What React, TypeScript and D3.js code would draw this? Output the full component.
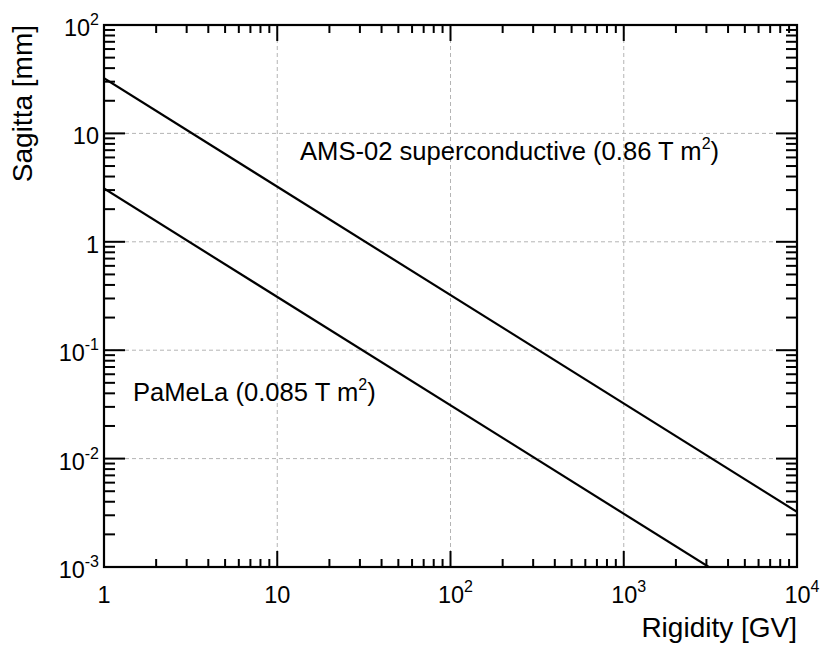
import React from "react";
import * as d3 from "d3";

const rigidity = [1, 10000];
const amsSagitta = [32.25, 0.003225];
const pamelaSagitta = [3.1, 0.00031];
const xDecades = [0, 1, 2, 3, 4];
const yDecades = [-3, -2, -1, 0, 1, 2];
const xTitle = "Rigidity [GV]";
const yTitle = "Sagitta [mm]";
const amsLabel = "AMS-02 superconductive (0.86 T m";
const pamelaLabel = "PaMeLa (0.085 T m";

const W = 830, H = 647;
const L = 104, R = 797, T = 25, B = 567;
const FONT = "'Liberation Sans', Arial, Helvetica, sans-serif";

function TickLabel({ e, x, y, anchor }: { e: number; x: number; y: number; anchor: string }) {
  if (e === 0) return <text x={x} y={y} textAnchor={anchor} fontSize={23.5}>1</text>;
  if (e === 1) return <text x={x} y={y} textAnchor={anchor} fontSize={23.5}>10</text>;
  return (
    <text x={x} y={y} textAnchor={anchor} fontSize={23.5}>
      10<tspan fontSize={16} dy={-11}>{String(e)}</tspan>
    </text>
  );
}

export default function App() {
  const x = d3.scaleLog().domain([1, 1e4]).range([L, R]);
  const y = d3.scaleLog().domain([1e-3, 1e2]).range([B, T]);
  const line = d3.line<number>().x((_, i) => x(rigidity[i])).y((d) => y(d));

  const xMinor: number[] = [];
  for (let e = 0; e < 4; e++) for (let m = 2; m <= 9; m++) xMinor.push(m * Math.pow(10, e));
  const yMinor: number[] = [];
  for (let e = -3; e < 2; e++) for (let m = 2; m <= 9; m++) yMinor.push(m * Math.pow(10, e));

  return (
    <svg width={W} height={H} style={{ position: "absolute", left: 0, top: 0, background: "#fff" }} fontFamily={FONT}>
      <defs>
        <clipPath id="frame">
          <rect x={L} y={T} width={R - L} height={B - T} />
        </clipPath>
      </defs>
      <rect x={0} y={0} width={W} height={H} fill="#fff" />
      {/* grid */}
      <g stroke="#b4b4b4" strokeWidth={1} strokeDasharray="4,3">
        {xDecades.slice(1, -1).map((e) => (
          <line key={"gx" + e} x1={x(Math.pow(10, e))} x2={x(Math.pow(10, e))} y1={T} y2={B} />
        ))}
        {yDecades.slice(1, -1).map((e) => (
          <line key={"gy" + e} x1={L} x2={R} y1={y(Math.pow(10, e))} y2={y(Math.pow(10, e))} />
        ))}
      </g>
      {/* ticks */}
      <g stroke="#000" strokeWidth={2}>
        {xDecades.map((e) => {
          const px = x(Math.pow(10, e));
          return (
            <g key={"xt" + e}>
              <line x1={px} x2={px} y1={B} y2={B - 16} />
              <line x1={px} x2={px} y1={T} y2={T + 16} />
            </g>
          );
        })}
        {xMinor.map((v) => {
          const px = x(v);
          return (
            <g key={"xm" + v}>
              <line x1={px} x2={px} y1={B} y2={B - 8} />
              <line x1={px} x2={px} y1={T} y2={T + 8} />
            </g>
          );
        })}
        {yDecades.map((e) => {
          const py = y(Math.pow(10, e));
          return (
            <g key={"yt" + e}>
              <line x1={L} x2={L + 21} y1={py} y2={py} />
              <line x1={R} x2={R - 21} y1={py} y2={py} />
            </g>
          );
        })}
        {yMinor.map((v) => {
          const py = y(v);
          return (
            <g key={"ym" + v}>
              <line x1={L} x2={L + 11} y1={py} y2={py} />
              <line x1={R} x2={R - 11} y1={py} y2={py} />
            </g>
          );
        })}
      </g>
      {/* curves */}
      <g clipPath="url(#frame)" fill="none" stroke="#000" strokeWidth={2.2}>
        <path d={line(amsSagitta) || ""} />
        <path d={line(pamelaSagitta) || ""} />
      </g>
      <rect x={L} y={T} width={R - L} height={B - T} fill="none" stroke="#000" strokeWidth={2.2} />
      {/* tick labels */}
      <g fill="#000">
        {xDecades.map((e) => (
          <TickLabel key={"xl" + e} e={e} x={x(Math.pow(10, e)) + (e >= 2 ? 5 : 0)} y={603} anchor="middle" />
        ))}
        {yDecades.map((e) => (
          <TickLabel key={"yl" + e} e={e} x={99} y={y(Math.pow(10, e)) + 11} anchor="end" />
        ))}
      </g>
      {/* annotations */}
      <text x={300} y={160} fontSize={25.6}>
        {amsLabel}
        <tspan fontSize={16} dy={-11}>2</tspan>
        <tspan dy={11}>)</tspan>
      </text>
      <text x={133} y={401} fontSize={25.6}>
        {pamelaLabel}
        <tspan fontSize={16} dy={-11}>2</tspan>
        <tspan dy={11}>)</tspan>
      </text>
      {/* axis titles */}
      <text x={R} y={637} textAnchor="end" fontSize={28}>{xTitle}</text>
      <text transform={`translate(32,${T}) rotate(-90)`} textAnchor="end" fontSize={28}>{yTitle}</text>
    </svg>
  );
}
